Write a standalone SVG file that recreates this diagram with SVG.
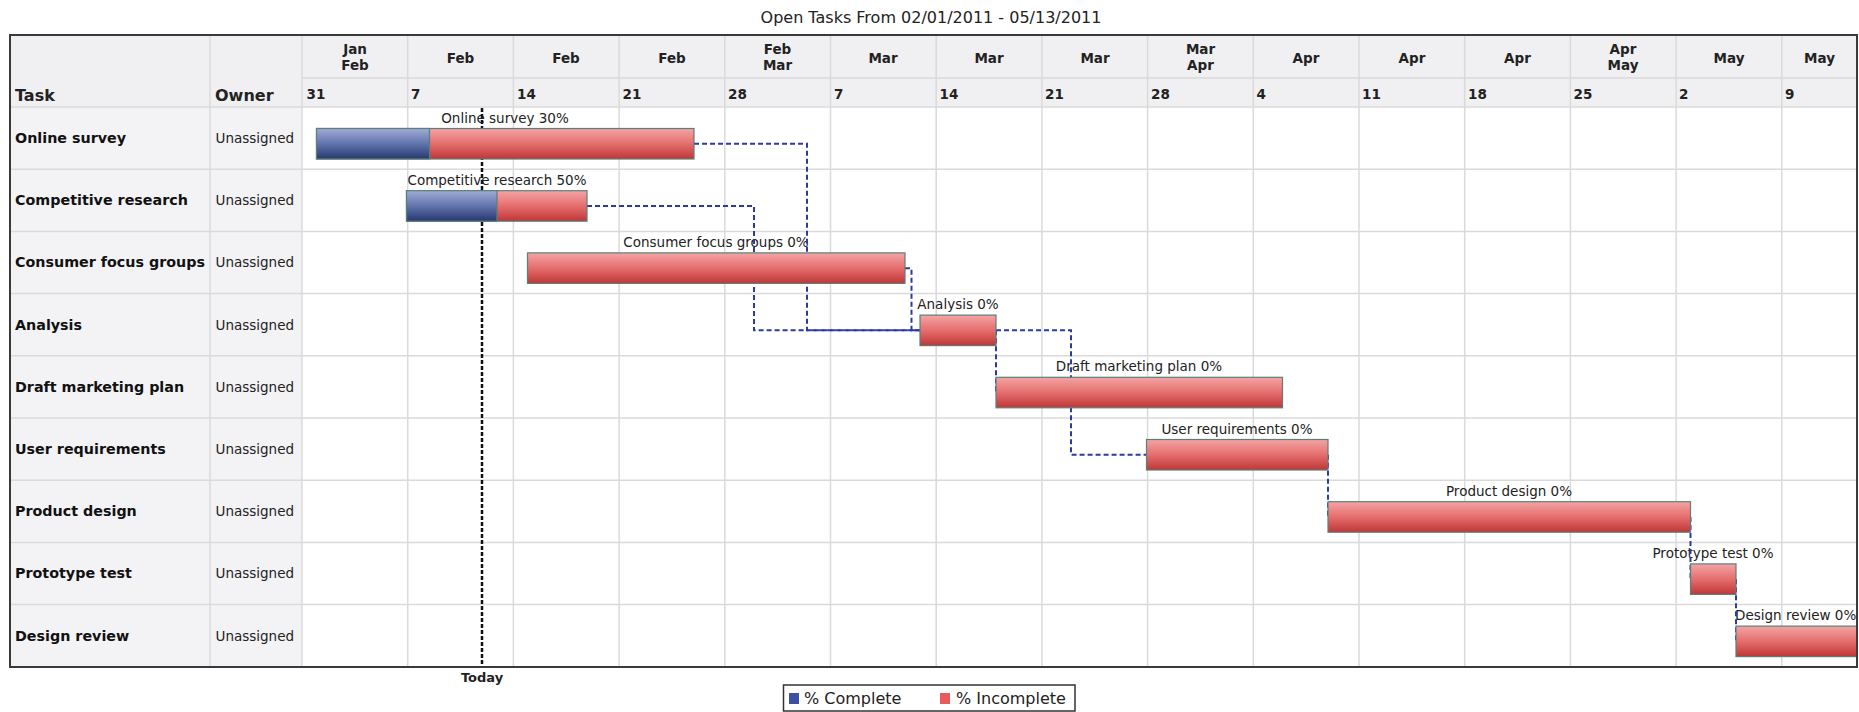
<svg xmlns="http://www.w3.org/2000/svg" width="1859" height="712" viewBox="0 0 1859 712">
<style>
.title{font-family:"DejaVu Sans",Verdana,sans-serif;font-size:16px;fill:#222;text-anchor:middle}
.hdr{font-family:"DejaVu Sans",Verdana,sans-serif;font-size:13.5px;font-weight:bold;fill:#222;text-anchor:middle}
.day{font-family:"DejaVu Sans",Verdana,sans-serif;font-size:13.5px;font-weight:bold;fill:#222}
.colh{font-family:"DejaVu Sans",Verdana,sans-serif;font-size:16px;font-weight:bold;fill:#222}
.task{font-family:"DejaVu Sans",Verdana,sans-serif;font-size:14.3px;font-weight:bold;fill:#111}
.own{font-family:"DejaVu Sans",Verdana,sans-serif;font-size:13.5px;fill:#222}
.lbl{font-family:"DejaVu Sans",Verdana,sans-serif;font-size:13.5px;fill:#222;text-anchor:middle}
.leg{font-family:"DejaVu Sans",Verdana,sans-serif;font-size:16px;fill:#222}
.grid{stroke:#dadadc;stroke-width:1.5;fill:none}
.inc{fill:url(#gRed);stroke:#5d7f7a;stroke-width:1.2}
.cmp{fill:url(#gBlue);stroke:#5d7f7a;stroke-width:1.2}
.con{fill:none;stroke:#2d3aa2;stroke-width:2;stroke-dasharray:5 3}
</style>
<defs>
<linearGradient id="gRed" x1="0" y1="0" x2="0" y2="1">
<stop offset="0" stop-color="#f4a4a4"/><stop offset="0.5" stop-color="#e56e6e"/><stop offset="1" stop-color="#c03636"/>
</linearGradient>
<linearGradient id="gBlue" x1="0" y1="0" x2="0" y2="1">
<stop offset="0" stop-color="#a0acd6"/><stop offset="0.5" stop-color="#6274ad"/><stop offset="1" stop-color="#27386f"/>
</linearGradient>
<clipPath id="chartClip"><rect x="302" y="35" width="1555" height="632"/></clipPath>
</defs>
<rect width="1859" height="712" fill="#fff"/>
<text class="title" x="931" y="23">Open Tasks From 02/01/2011 - 05/13/2011</text>

<g id="table">
<rect x="10" y="35" width="1847" height="72" fill="#f0f0f2"/>
<rect x="10" y="107" width="292" height="560" fill="#f3f3f5"/>
<g class="grid">
<path d="M302,78H1857"/>
<path d="M10,107H1857M10,169.2H1857M10,231.4H1857M10,293.6H1857M10,355.8H1857M10,418H1857M10,480.2H1857M10,542.4H1857M10,604.6H1857"/>
<path d="M210,35V667M302,35V667M407.7,35V667M513.4,35V667M619.1,35V667M724.8,35V667M830.5,35V667M936.2,35V667M1041.9,35V667M1147.6,35V667M1253.3,35V667M1359,35V667M1464.7,35V667M1570.4,35V667M1676.1,35V667M1781.8,35V667"/>
</g>
<text class="hdr" x="355" y="54">Jan</text><text class="hdr" x="355" y="70">Feb</text>
<text class="hdr" x="460.5" y="63">Feb</text>
<text class="hdr" x="566" y="63">Feb</text>
<text class="hdr" x="672" y="63">Feb</text>
<text class="hdr" x="777.5" y="54">Feb</text><text class="hdr" x="777.5" y="70">Mar</text>
<text class="hdr" x="883" y="63">Mar</text>
<text class="hdr" x="989" y="63">Mar</text>
<text class="hdr" x="1095" y="63">Mar</text>
<text class="hdr" x="1200.5" y="54">Mar</text><text class="hdr" x="1200.5" y="70">Apr</text>
<text class="hdr" x="1306" y="63">Apr</text>
<text class="hdr" x="1412" y="63">Apr</text>
<text class="hdr" x="1517.5" y="63">Apr</text>
<text class="hdr" x="1623" y="54">Apr</text><text class="hdr" x="1623" y="70">May</text>
<text class="hdr" x="1729" y="63">May</text>
<text class="hdr" x="1819.5" y="63">May</text>
<text class="day" x="306.5" y="99">31</text>
<text class="day" x="411" y="99">7</text>
<text class="day" x="517" y="99">14</text>
<text class="day" x="622.5" y="99">21</text>
<text class="day" x="728" y="99">28</text>
<text class="day" x="834" y="99">7</text>
<text class="day" x="939.5" y="99">14</text>
<text class="day" x="1045" y="99">21</text>
<text class="day" x="1151" y="99">28</text>
<text class="day" x="1256.5" y="99">4</text>
<text class="day" x="1362" y="99">11</text>
<text class="day" x="1468" y="99">18</text>
<text class="day" x="1573.5" y="99">25</text>
<text class="day" x="1679" y="99">2</text>
<text class="day" x="1785" y="99">9</text>
<text class="colh" x="15" y="101">Task</text>
<text class="colh" x="215" y="101">Owner</text>
</g>

<g id="today">
<path d="M482,108V667" stroke="#111" stroke-width="2.5" stroke-dasharray="4 2" fill="none"/>
<text class="hdr" x="482" y="682" style="font-size:13px">Today</text>
</g>

<g id="labels" clip-path="url(#chartClip)">
<text class="lbl" x="505" y="122.5">Online survey 30%</text>
<text class="lbl" x="497" y="184.7">Competitive research 50%</text>
<text class="lbl" x="716" y="246.9">Consumer focus groups 0%</text>
<text class="lbl" x="958" y="309.1">Analysis 0%</text>
<text class="lbl" x="1139" y="371.3">Draft marketing plan 0%</text>
<text class="lbl" x="1237" y="433.5">User requirements 0%</text>
<text class="lbl" x="1509" y="495.7">Product design 0%</text>
<text class="lbl" x="1713" y="557.9">Prototype test 0%</text>
<text class="lbl" x="1735" y="620.1" style="text-anchor:start">Design review 0%</text>
</g>

<g id="connectors">
<path class="con" d="M694,143.75H807V330.35H920"/>
<path class="con" d="M587,205.95H754V330.35H920"/>
<path class="con" d="M905,268.15H911.5V330.35H920"/>
<path class="con" d="M996,330.35H1071V454.75H1146.5"/>
<path class="con" d="M996,330.35V392.55"/>
<path class="con" d="M1328,454.75V516.95"/>
<path class="con" d="M1690.5,516.95V579.15"/>
<path class="con" d="M1736,579.15V641.35"/>
</g>

<g id="task-online-survey">
<text class="task" x="15" y="143">Online survey</text><text class="own" x="215.5" y="143">Unassigned</text>
<rect class="inc" x="316.5" y="128.5" width="377.5" height="30.5"/>
<rect class="cmp" x="316.5" y="128.5" width="113" height="30.5"/>
</g>
<g id="task-competitive-research">
<text class="task" x="15" y="205.2">Competitive research</text><text class="own" x="215.5" y="205.2">Unassigned</text>
<rect class="inc" x="406.5" y="190.7" width="180.5" height="30.5"/>
<rect class="cmp" x="406.5" y="190.7" width="90.5" height="30.5"/>
</g>
<g id="task-consumer-focus-groups">
<text class="task" x="15" y="267.4">Consumer focus groups</text><text class="own" x="215.5" y="267.4">Unassigned</text>
<rect class="inc" x="527.5" y="252.9" width="377.5" height="30.5"/>
</g>
<g id="task-analysis">
<text class="task" x="15" y="329.6">Analysis</text><text class="own" x="215.5" y="329.6">Unassigned</text>
<rect class="inc" x="920" y="315.1" width="76" height="30.5"/>
</g>
<g id="task-draft-marketing-plan">
<text class="task" x="15" y="391.8">Draft marketing plan</text><text class="own" x="215.5" y="391.8">Unassigned</text>
<rect class="inc" x="996" y="377.3" width="286.5" height="30.5"/>
</g>
<g id="task-user-requirements">
<text class="task" x="15" y="454">User requirements</text><text class="own" x="215.5" y="454">Unassigned</text>
<rect class="inc" x="1146.5" y="439.5" width="181.5" height="30.5"/>
</g>
<g id="task-product-design">
<text class="task" x="15" y="516.2">Product design</text><text class="own" x="215.5" y="516.2">Unassigned</text>
<rect class="inc" x="1328" y="501.7" width="362.5" height="30.5"/>
</g>
<g id="task-prototype-test">
<text class="task" x="15" y="578.4">Prototype test</text><text class="own" x="215.5" y="578.4">Unassigned</text>
<rect class="inc" x="1690.5" y="563.9" width="45.5" height="30.5"/>
</g>
<g id="task-design-review">
<text class="task" x="15" y="640.6">Design review</text><text class="own" x="215.5" y="640.6">Unassigned</text>
<rect class="inc" x="1736" y="626.1" width="140" height="30.5" clip-path="url(#chartClip)"/>
</g>

<rect id="frame" x="10" y="35" width="1847" height="632" fill="none" stroke="#3a3a3a" stroke-width="2"/>

<g id="legend">
<rect x="783.5" y="685" width="291.5" height="26" fill="#fff" stroke="#333" stroke-width="1.5"/>
<rect x="789" y="693" width="10" height="11" fill="#3b4fa3"/>
<text class="leg" x="804" y="704">% Complete</text>
<rect x="940" y="693" width="10" height="11" fill="#ea5a5a"/>
<text class="leg" x="956" y="704">% Incomplete</text>
</g>
</svg>
